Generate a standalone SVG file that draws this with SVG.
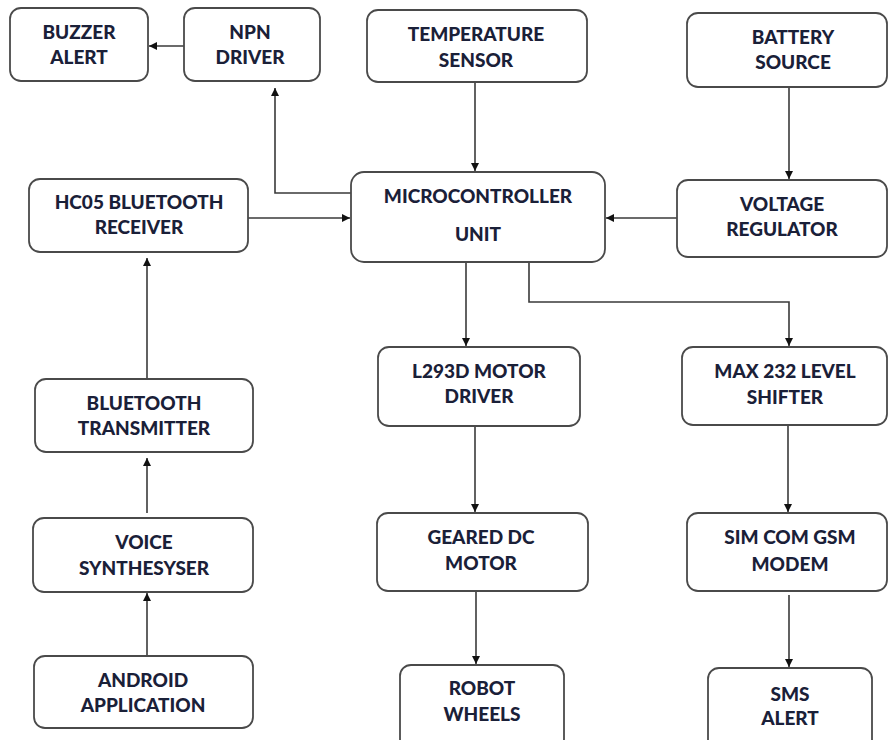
<svg xmlns="http://www.w3.org/2000/svg" width="889" height="740" viewBox="0 0 889 740">
<defs>
<style>
.box{fill:#fff;stroke:#4a4a4a;stroke-width:1.8}
.t{font-family:Lato,"Open Sans","Liberation Sans",sans-serif;font-weight:900;font-size:19px;fill:#1a2038;text-anchor:middle}
.c{fill:none;stroke:#3a3a3a;stroke-width:1.6}
</style>
<marker id="ah" viewBox="0 0 10 10" refX="10" refY="5" markerWidth="8" markerHeight="8" markerUnits="userSpaceOnUse" orient="auto">
<path d="M0,0 L10,5 L0,10 z" fill="#111"/>
</marker>
</defs>
<rect width="889" height="740" fill="#fff"/>

<g id="connectors">
<path class="c" marker-end="url(#ah)" d="M184,46 H149"/>
<path class="c" marker-end="url(#ah)" d="M351,193 H275 V88"/>
<path class="c" marker-end="url(#ah)" d="M475,82 V171"/>
<path class="c" marker-end="url(#ah)" d="M789,87 V179"/>
<path class="c" marker-end="url(#ah)" d="M677,218 H606"/>
<path class="c" marker-end="url(#ah)" d="M248,218 H350"/>
<path class="c" marker-end="url(#ah)" d="M147,379 V258"/>
<path class="c" marker-end="url(#ah)" d="M147,513 V458"/>
<path class="c" marker-end="url(#ah)" d="M147,655 V593"/>
<path class="c" marker-end="url(#ah)" d="M466,262 V346"/>
<path class="c" marker-end="url(#ah)" d="M529,262 V302 H789 V346"/>
<path class="c" marker-end="url(#ah)" d="M475,427 V512"/>
<path class="c" marker-end="url(#ah)" d="M788,425 V512"/>
<path class="c" marker-end="url(#ah)" d="M476,591 V664"/>
<path class="c" marker-end="url(#ah)" d="M789,595 V667"/>
</g>

<g id="buzzer"><rect class="box" x="10" y="8" width="138" height="73" rx="11"/><text class="t" x="79" y="39">BUZZER</text><text class="t" x="79" y="64">ALERT</text></g>
<g id="npn"><rect class="box" x="184" y="8" width="136" height="73" rx="11"/><text class="t" x="250" y="39">NPN</text><text class="t" x="250" y="64">DRIVER</text></g>
<g id="temp"><rect class="box" x="367" y="10" width="220" height="72" rx="11"/><text class="t" x="476" y="41">TEMPERATURE</text><text class="t" x="476" y="67">SENSOR</text></g>
<g id="battery"><rect class="box" x="687" y="13" width="200" height="74" rx="11"/><text class="t" x="793" y="44">BATTERY</text><text class="t" x="793" y="69">SOURCE</text></g>
<g id="mcu"><rect class="box" x="351" y="172" width="254" height="90" rx="13"/><text class="t" x="478" y="203">MICROCONTROLLER</text><text class="t" x="478" y="241">UNIT</text></g>
<g id="vreg"><rect class="box" x="677" y="180" width="210" height="77" rx="11"/><text class="t" x="782" y="211">VOLTAGE</text><text class="t" x="782" y="236">REGULATOR</text></g>
<g id="hc05"><rect class="box" x="29" y="179" width="219" height="73" rx="11"/><text class="t" x="139" y="209">HC05 BLUETOOTH</text><text class="t" x="139" y="234">RECEIVER</text></g>
<g id="bttx"><rect class="box" x="35" y="379" width="218" height="73" rx="11"/><text class="t" x="144" y="410">BLUETOOTH</text><text class="t" x="144" y="435">TRANSMITTER</text></g>
<g id="voice"><rect class="box" x="33" y="518" width="220" height="74" rx="11"/><text class="t" x="144" y="549">VOICE</text><text class="t" x="144" y="575">SYNTHESYSER</text></g>
<g id="android"><rect class="box" x="34" y="656" width="219" height="72" rx="11"/><text class="t" x="143" y="687">ANDROID</text><text class="t" x="143" y="712">APPLICATION</text></g>
<g id="l293d"><rect class="box" x="378" y="347" width="202" height="79" rx="11"/><text class="t" x="479" y="378">L293D MOTOR</text><text class="t" x="479" y="403">DRIVER</text></g>
<g id="max232"><rect class="box" x="682" y="347" width="205" height="78" rx="11"/><text class="t" x="785" y="378">MAX 232 LEVEL</text><text class="t" x="785" y="404">SHIFTER</text></g>
<g id="geared"><rect class="box" x="377" y="513" width="211" height="78" rx="11"/><text class="t" x="481" y="544">GEARED DC</text><text class="t" x="481" y="570">MOTOR</text></g>
<g id="simcom"><rect class="box" x="687" y="513" width="200" height="78" rx="11"/><text class="t" x="790" y="544">SIM COM GSM</text><text class="t" x="790" y="571">MODEM</text></g>
<g id="robot"><rect class="box" x="400" y="665" width="164" height="85" rx="11"/><text class="t" x="482" y="695">ROBOT</text><text class="t" x="482" y="721">WHEELS</text></g>
<g id="sms"><rect class="box" x="708" y="668" width="164" height="85" rx="11"/><text class="t" x="790" y="701">SMS</text><text class="t" x="790" y="725">ALERT</text></g>
</svg>
